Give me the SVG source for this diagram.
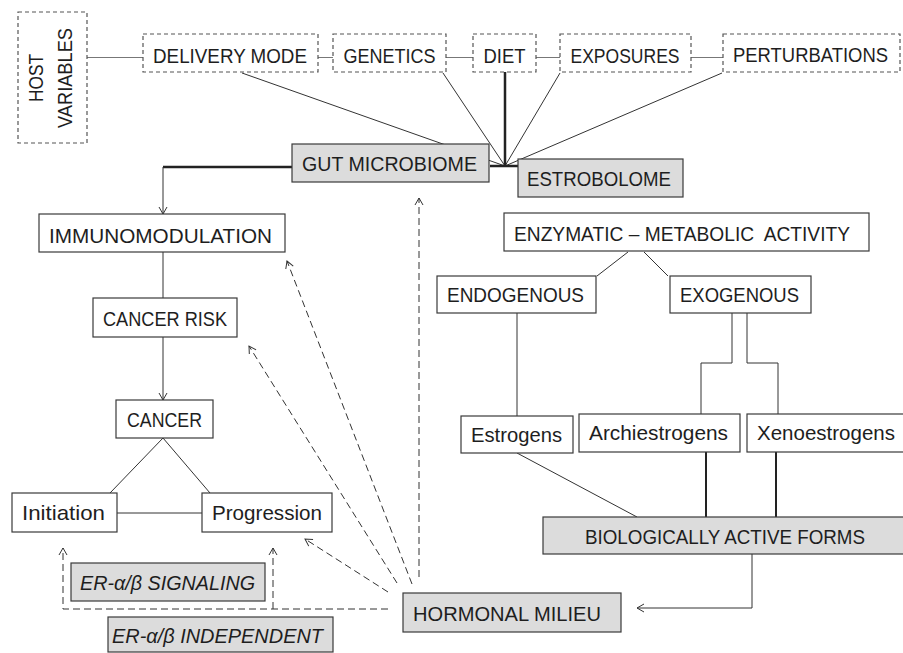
<svg xmlns="http://www.w3.org/2000/svg" width="903" height="653" viewBox="0 0 903 653">
<defs>
<marker id="arr" markerUnits="userSpaceOnUse" markerWidth="12" markerHeight="12" viewBox="0 0 12 12" refX="10" refY="6" orient="auto">
<path d="M3,2 L10,6 L3,10" fill="none" stroke="#333" stroke-width="1"/>
</marker>
</defs>
<style>
.box{fill:#fff;stroke:#3a3a3a;stroke-width:1.2}
.gbox{fill:#dcdcdc;stroke:#3a3a3a;stroke-width:1.2}
.dbox{fill:#fff;stroke:#555;stroke-width:1.2;stroke-dasharray:4 3}
text{font-family:"Liberation Sans",Arial,sans-serif;font-size:21px;fill:#1e1e1e;text-anchor:middle}
.it{font-style:italic}
.sm{font-size:19.5px}
.ln{stroke:#333;stroke-width:1;fill:none}
.gl{stroke:#777;stroke-width:1.2;fill:none}
.thick{stroke:#222;stroke-width:2.5;fill:none}
.dash{stroke:#333;stroke-width:1;stroke-dasharray:7 4;fill:none}
</style>
<rect width="903" height="653" fill="#fff"/>
<g id="connectors">
<path class="gl" d="M87,57.5 H143 M318,57.5 H333 M446,57.5 H473 M536,57.5 H560 M691,57.5 H723"/>
<path class="ln" d="M242,73 L505,166 M443,73 L505,166 M560,73 L505,166 M722,73 L505,166"/>
<path class="thick" d="M505,72 V166 M490,166 H518"/>
<path class="thick" d="M292,167 H163"/>
<path class="ln" d="M163,167 V214" marker-end="url(#arr)"/>
<path class="ln" d="M163,252 V298"/>
<path class="ln" d="M163,337 V400" marker-end="url(#arr)"/>
<path class="ln" d="M163,438 L110,493 M163,438 L210,493 M117,513 H202"/>
<path class="ln" d="M628,252 L597,276 M644,252 L668,276"/>
<path class="ln" d="M517,313 V416"/>
<path class="ln" d="M732,312 V363 H701 V414 M747,312 V363 H778 V414"/>
<path class="ln" d="M517,453 L637,517"/>
<path class="thick" d="M706,452 V517 M776,452 V517" style="stroke-width:2"/>
<path class="ln" d="M752,554 V608 H637" marker-end="url(#arr)"/>
<path class="dash" d="M419,577 V198" marker-end="url(#arr)"/>
<path class="dash" d="M412,584 L287,261" marker-end="url(#arr)"/>
<path class="dash" d="M397,583 L249,346" marker-end="url(#arr)"/>
<path class="dash" d="M388,592 L305,539" marker-end="url(#arr)"/>
<path class="dash" d="M388,609 H63 V548" marker-end="url(#arr)"/>
<path class="dash" d="M273,609 V548" marker-end="url(#arr)"/>
</g>
<g id="host-variables">
<rect class="dbox" x="18" y="12" width="69" height="131"/>
<text transform="translate(43,78) rotate(-90)" textLength="48" lengthAdjust="spacingAndGlyphs">HOST</text>
<text transform="translate(72,78) rotate(-90)" textLength="100" lengthAdjust="spacingAndGlyphs">VARIABLES</text>
</g>
<g id="delivery-mode"><rect class="dbox" x="143" y="34" width="175" height="38"/><text x="230" y="62.5" textLength="154" lengthAdjust="spacingAndGlyphs">DELIVERY MODE</text></g>
<g id="genetics"><rect class="dbox" x="333" y="34" width="113" height="38"/><text x="389.5" y="62.5" textLength="92" lengthAdjust="spacingAndGlyphs">GENETICS</text></g>
<g id="diet"><rect class="dbox" x="473" y="34" width="63" height="38"/><text x="504.5" y="62.5" textLength="42" lengthAdjust="spacingAndGlyphs">DIET</text></g>
<g id="exposures"><rect class="dbox" x="560" y="34" width="131" height="38"/><text x="625" y="62.5" textLength="109" lengthAdjust="spacingAndGlyphs">EXPOSURES</text></g>
<g id="perturbations"><rect class="dbox" x="723" y="34" width="177" height="38"/><text class="sm" x="810.5" y="62" textLength="155" lengthAdjust="spacingAndGlyphs">PERTURBATIONS</text></g>
<g id="gut-microbiome"><rect class="gbox" x="292" y="144" width="197" height="38"/><text x="389.5" y="170.5" textLength="175" lengthAdjust="spacingAndGlyphs">GUT MICROBIOME</text></g>
<g id="estrobolome"><rect class="gbox" x="518" y="159" width="165" height="38"/><text x="599" y="185.5" textLength="144" lengthAdjust="spacingAndGlyphs">ESTROBOLOME</text></g>
<g id="immunomodulation"><rect class="box" x="39" y="214" width="246" height="38"/><text x="160.5" y="242.5" textLength="223" lengthAdjust="spacingAndGlyphs">IMMUNOMODULATION</text></g>
<g id="cancer-risk"><rect class="box" x="93" y="298" width="144" height="39"/><text x="165" y="325.5" textLength="124" lengthAdjust="spacingAndGlyphs">CANCER RISK</text></g>
<g id="cancer"><rect class="box" x="116" y="400" width="97" height="38"/><text x="164.5" y="427" textLength="75" lengthAdjust="spacingAndGlyphs">CANCER</text></g>
<g id="initiation"><rect class="box" x="12" y="493" width="105" height="39"/><text x="63.5" y="520" textLength="83" lengthAdjust="spacingAndGlyphs">Initiation</text></g>
<g id="progression"><rect class="box" x="202" y="493" width="130" height="39"/><text x="267" y="520" textLength="110" lengthAdjust="spacingAndGlyphs">Progression</text></g>
<g id="er-signaling"><rect class="gbox" x="71" y="563" width="194" height="38"/><text class="it" x="167.5" y="589.5" textLength="175" lengthAdjust="spacingAndGlyphs">ER-α/β SIGNALING</text></g>
<g id="er-independent"><rect class="gbox" x="108" y="617" width="225" height="35"/><text class="it" x="217.5" y="642.5" textLength="211" lengthAdjust="spacingAndGlyphs">ER-α/β INDEPENDENT</text></g>
<g id="hormonal-milieu"><rect class="gbox" x="403" y="593" width="218" height="39"/><text x="507" y="620.5" textLength="188" lengthAdjust="spacingAndGlyphs">HORMONAL MILIEU</text></g>
<g id="enzymatic"><rect class="box" x="504" y="213" width="365" height="38"/><text x="682" y="240.5" textLength="336" lengthAdjust="spacingAndGlyphs" xml:space="preserve">ENZYMATIC – METABOLIC  ACTIVITY</text></g>
<g id="endogenous"><rect class="box" x="437" y="276" width="159" height="37"/><text x="515.5" y="302" textLength="137" lengthAdjust="spacingAndGlyphs">ENDOGENOUS</text></g>
<g id="exogenous"><rect class="box" x="670" y="276" width="141" height="37"/><text x="739.5" y="302" textLength="119" lengthAdjust="spacingAndGlyphs">EXOGENOUS</text></g>
<g id="estrogens"><rect class="box" x="461" y="416" width="112" height="37"/><text x="516.5" y="442" textLength="91" lengthAdjust="spacingAndGlyphs">Estrogens</text></g>
<g id="archiestrogens"><rect class="box" x="579" y="414" width="161" height="38"/><text x="658.5" y="440" textLength="139" lengthAdjust="spacingAndGlyphs">Archiestrogens</text></g>
<g id="xenoestrogens"><rect class="box" x="747" y="414" width="170" height="38"/><text x="826" y="440" textLength="138" lengthAdjust="spacingAndGlyphs">Xenoestrogens</text></g>
<g id="biologically-active-forms"><rect class="gbox" x="543" y="517" width="375" height="37"/><text x="725" y="543.5" textLength="280" lengthAdjust="spacingAndGlyphs">BIOLOGICALLY ACTIVE FORMS</text></g>
</svg>
